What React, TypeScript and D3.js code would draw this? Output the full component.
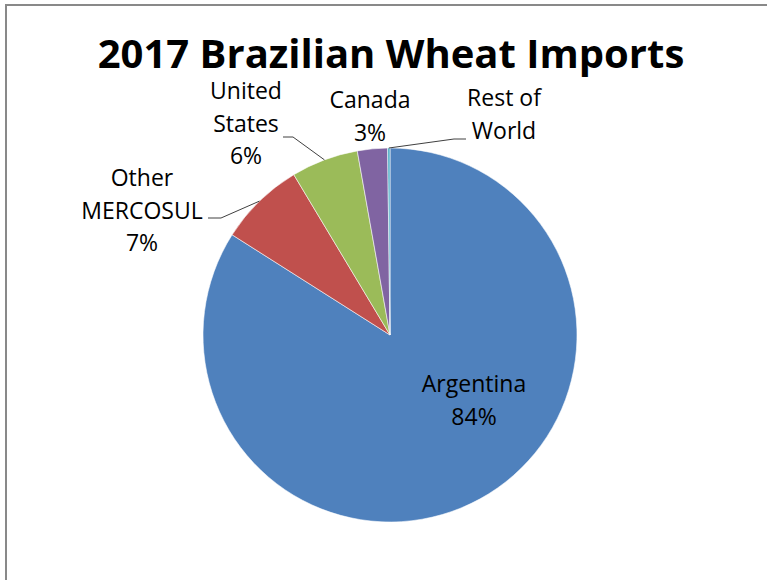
import React from "react";
import * as d3 from "d3";

const categories = ["Argentina", "Other MERCOSUL", "United States", "Canada", "Rest of World"];
const shares = [84.0, 7.4, 5.8, 2.6, 0.2];
const labelLines = [["Argentina"], ["Other", "MERCOSUL"], ["United", "States"], ["Canada"], ["Rest of", "World"]];
const colors = ["#4f81bd", "#c0504d", "#9bbb59", "#8064a2", "#4bacc6"];
const title = "2017 Brazilian Wheat Imports";

// layout (label placement, Excel-style)
const labelLayout = [
  { x: 474, y: 392, leader: null },
  { x: 142, y: 186, leader: { sx: 208, sy: 218, kx: 221 } },
  { x: 246, y: 99, leader: { sx: 283, sy: 137, kx: 293 } },
  { x: 370, y: 108, leader: null },
  { x: 504, y: 106, leader: { sx: 466, sy: 139, kx: 454 } },
];

const W = 767, H = 580;
const cx = 390, cy = 335, R = 187;
const FONT = "'Open Sans', 'Liberation Sans', sans-serif";

export default function App() {
  const pie = d3.pie<number>().sort(null).value((d) => d).startAngle(0).endAngle(2 * Math.PI);
  const arcs = pie(shares);
  const arcGen = d3.arc<d3.PieArcDatum<number>>().innerRadius(0).outerRadius(R);
  const lh = 32.5;

  return (
    <svg width={W} height={H} style={{ position: "absolute", left: 0, top: 0, background: "#fff" }}>
      <rect x={6} y={5} width={W + 20} height={H + 20} fill="#fff" stroke="#898989" strokeWidth={2} />
      <text x={391} y={68} textAnchor="middle" fontFamily={FONT} fontWeight="bold" fontSize={40} fill="#000">
        {title}
      </text>
      <g transform={`translate(${cx},${cy})`}>
        {arcs.map((a, i) => (
          <path key={categories[i]} d={arcGen(a) || ""} fill={colors[i]} stroke="#fff" strokeWidth={0.8} strokeOpacity={0.7} />
        ))}
      </g>
      {arcs.map((a, i) => {
        const L = labelLayout[i];
        if (!L.leader) return null;
        const m = (a.startAngle + a.endAngle) / 2;
        const px = cx + R * Math.sin(m);
        const py = cy - R * Math.cos(m);
        const pts: [number, number][] = [
          [L.leader.sx, L.leader.sy],
          [L.leader.kx, L.leader.sy],
          [px, py],
        ];
        return <path key={"l" + i} d={d3.line()(pts) || ""} fill="none" stroke="#404040" strokeWidth={1} />;
      })}
      {arcs.map((a, i) => {
        const L = labelLayout[i];
        const pct = Math.round(shares[i]);
        const lines = pct > 0 ? [...labelLines[i], `${pct}%`] : labelLines[i];
        return (
          <text key={"t" + i} textAnchor="middle" fontFamily={FONT} fontSize={23} fill="#000">
            {lines.map((s, j) => (
              <tspan key={j} x={L.x} y={L.y + j * lh}>{s}</tspan>
            ))}
          </text>
        );
      })}
    </svg>
  );
}
